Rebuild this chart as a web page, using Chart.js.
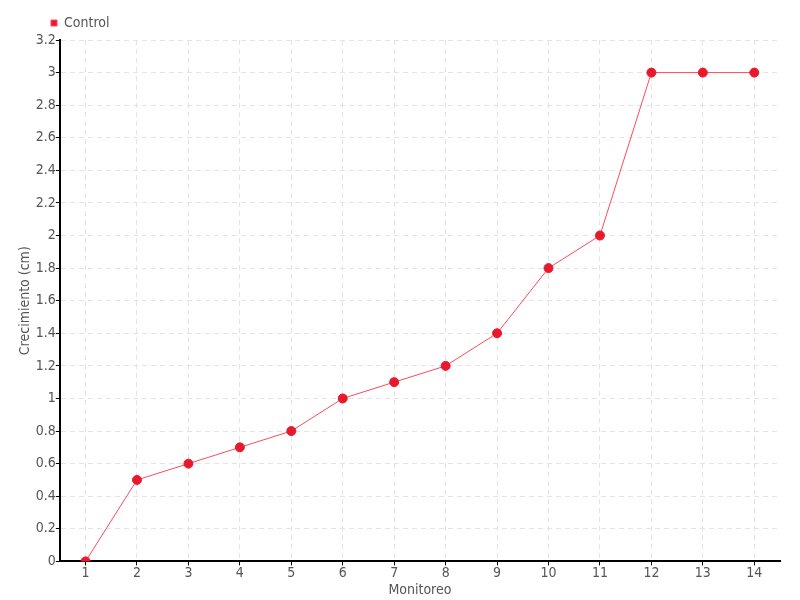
<!DOCTYPE html>
<html>
<head>
<meta charset="utf-8">
<script src="https://cdn.jsdelivr.net/npm/chart.js@4"></script>
<style>
  html, body { margin: 0; padding: 0; background: #fff; }
  #wrap { width: 800px; height: 600px; }
</style>
</head>
<body>
<div id="wrap"><canvas id="myGraph" width="800" height="600"></canvas></div>
<script>
// chart data
const monitoreo = ["1", "2", "3", "4", "5", "6", "7", "8", "9", "10", "11", "12", "13", "14"];
const control = [0, 0.5, 0.6, 0.7, 0.8, 1.0, 1.1, 1.2, 1.4, 1.8, 2.0, 3.0, 3.0, 3.0];
const yMin = 0;
const yMax = 3.2;
const yStep = 0.2;

const fontFam = "'Liberation Sans Narrow', 'DejaVu Sans Condensed', sans-serif";
const textCol = "#555";

const ctx = document.getElementById("myGraph");

// push the legend to the right, it sits over the plot start in the original
const legendShift = {
    id: "legendShift",
    afterLayout: function (chart) {
        chart.legend.left += 26;
        chart.legend.right += 26;
    }
};

let myChart = new Chart(ctx, {
    type: "line",
    data: {
        labels: monitoreo,
        datasets: [{
            label: "Control",
            data: control,
            borderColor: "#ff4a5c",
            borderWidth: 1,
            backgroundColor: "#e8192c",
            pointBackgroundColor: "#e8192c",
            pointBorderColor: "#e8192c",
            pointRadius: 4.5,
            pointBorderWidth: 1,
            fill: false,
            tension: 0
        }]
    },
    plugins: [legendShift],
    options: {
        responsive: false,
        animation: false,
        layout: { padding: { left: 15, right: 20, top: 6, bottom: 1 } },
        plugins: {
            legend: {
                align: "start",
                labels: {
                    boxWidth: 6,
                    boxHeight: 6,
                    padding: 10,
                    color: textCol,
                    font: { family: fontFam, size: 14 }
                }
            },
            tooltip: { enabled: false }
        },
        scales: {
            x: {
                offset: true,
                grid: {
                    offset: false,
                    color: "#e4e4e4",
                    tickColor: "#000",
                    tickBorderDash: [],
                    tickLength: 4
                },
                border: { color: "#000", width: 2, dash: [5, 4] },
                ticks: {
                    color: textCol,
                    padding: 0,
                    font: { family: fontFam, size: 14 }
                },
                title: {
                    display: true,
                    text: "Monitoreo",
                    color: textCol,
                    padding: 0,
                    font: { family: fontFam, size: 14 }
                }
            },
            y: {
                min: yMin,
                max: yMax,
                grid: {
                    color: "#e4e4e4",
                    tickColor: "#000",
                    tickBorderDash: [],
                    tickLength: 4
                },
                border: { color: "#000", width: 2, dash: [5, 4] },
                ticks: {
                    stepSize: yStep,
                    color: textCol,
                    padding: 0,
                    font: { family: fontFam, size: 14 },
                    callback: function (v) { return Math.round(v * 10) / 10; }
                },
                title: {
                    display: true,
                    text: "Crecimiento (cm)",
                    color: textCol,
                    padding: 2,
                    font: { family: fontFam, size: 14 }
                }
            }
        }
    }
});
</script>
</body>
</html>
